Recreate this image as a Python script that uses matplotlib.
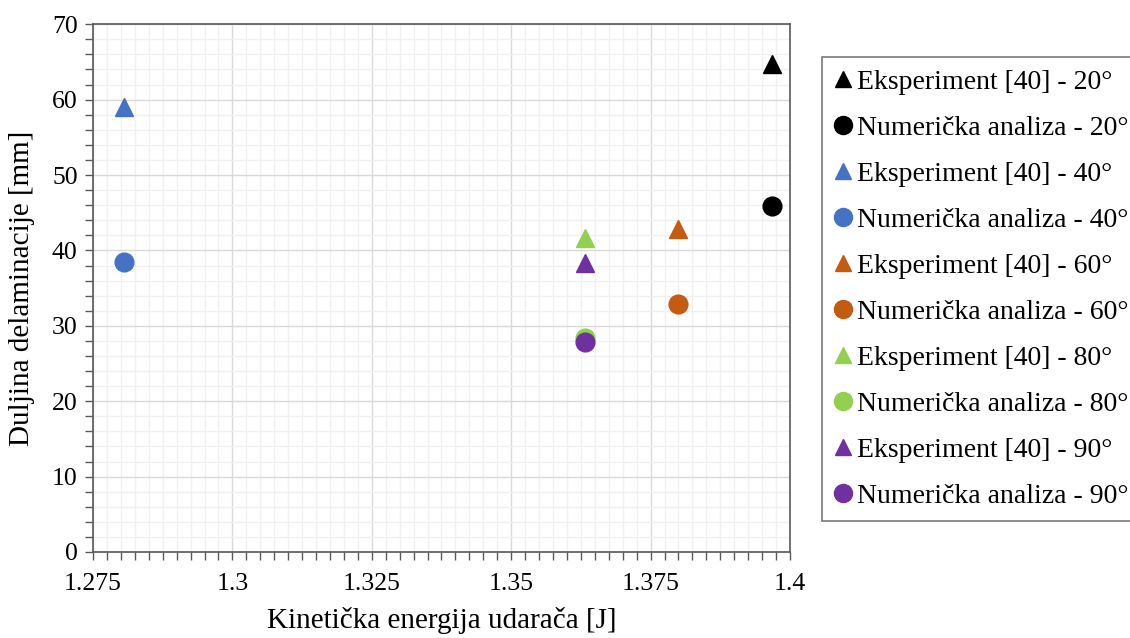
import matplotlib
matplotlib.use("Agg")
import matplotlib.pyplot as plt
from matplotlib.ticker import MultipleLocator
from matplotlib.lines import Line2D

plt.rcParams['font.family'] = ['Liberation Serif', 'DejaVu Serif']

# data (x = kinetic energy [J], y = delamination length [mm])
angles = ["20°", "40°", "60°", "80°", "90°"]
colors = ["#000000", "#4472C4", "#C55A11", "#92D050", "#7030A0"]
energy = [1.3968, 1.2806, 1.3799, 1.3632, 1.3632]
exp_len = [64.7, 59.0, 42.8, 41.6, 38.3]
num_len = [45.9, 38.4, 32.9, 28.4, 27.8]

xticks = [1.275, 1.3, 1.325, 1.35, 1.375, 1.4]
xtick_labels = ["1.275", "1.3", "1.325", "1.35", "1.375", "1.4"]

fig = plt.figure(figsize=(11.3, 6.38), dpi=100)
ax = fig.add_axes([0.0823, 0.1348, 0.6168, 0.8272])

handles = []
for ang, c, x, ye, yn in zip(angles, colors, energy, exp_len, num_len):
    ax.plot([x], [ye], "^", ms=13, color=c, mec=c, zorder=3)
    ax.plot([x], [yn], "o", ms=13.5, color=c, mec=c, zorder=3)
    handles.append(Line2D([], [], ls="none", marker="^", ms=12, color=c,
                          label=f"Eksperiment [40] - {ang}"))
    handles.append(Line2D([], [], ls="none", marker="o", ms=13, color=c,
                          label=f"Numerička analiza - {ang}"))

ax.set_xlim(1.275, 1.4)
ax.set_ylim(0, 70)
ax.set_xticks(xticks)
ax.set_xticklabels(xtick_labels)
ax.xaxis.set_minor_locator(MultipleLocator(0.0025))
ax.yaxis.set_major_locator(MultipleLocator(10))
ax.yaxis.set_minor_locator(MultipleLocator(2))

ax.grid(which="major", color="#D9D9D9", lw=1.0)
ax.grid(which="minor", color="#F0F0F0", lw=1.0)
ax.set_axisbelow(True)

for s in ax.spines.values():
    s.set_color("#595959")
    s.set_linewidth(1.2)

ax.tick_params(which="both", direction="out", length=6, width=1, color="#595959",
               labelsize=18.5, top=False, right=False)
ax.tick_params(axis="x", pad=9)
ax.tick_params(axis="y", pad=5)

ax.set_xlabel("Kinetička energija udarača [J]", fontsize=21, labelpad=9)
ax.set_ylabel("Duljina delaminacije [mm]", fontsize=21)
ax.yaxis.set_label_coords(-0.083, 0.5)

leg = fig.legend(handles=handles, loc="upper left", bbox_to_anchor=(0.7275, 0.9107),
                 fontsize=20, frameon=True, fancybox=False, edgecolor="#595959",
                 handlelength=0.6, handletextpad=0.2, labelspacing=0.74,
                 borderpad=0.45, borderaxespad=0)
leg.get_frame().set_linewidth(1.2)

fig.savefig("out.png", dpi=100)
